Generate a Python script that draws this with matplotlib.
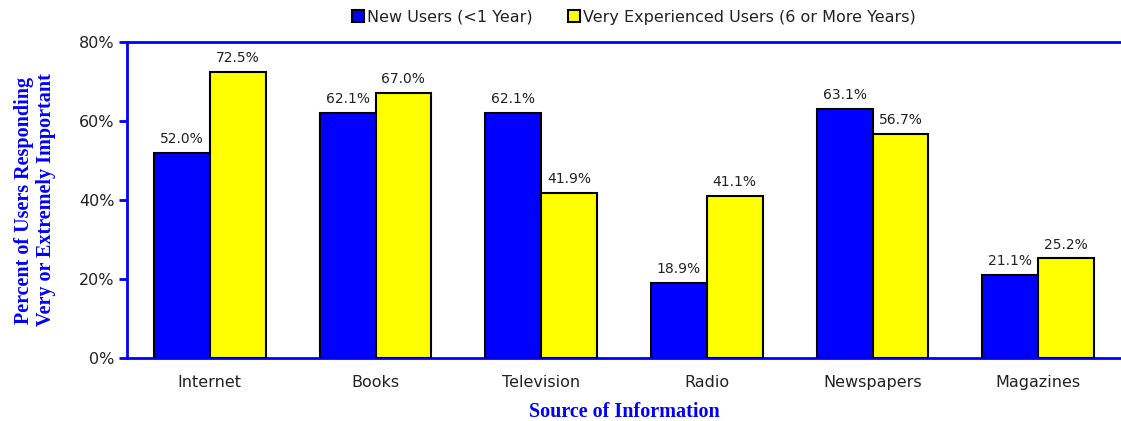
import matplotlib
matplotlib.use("Agg")
import matplotlib.pyplot as plt
import numpy as np

categories = ["Internet", "Books", "Television", "Radio", "Newspapers", "Magazines"]
new_users = [52.0, 62.1, 62.1, 18.9, 63.1, 21.1]
experienced = [72.5, 67.0, 41.9, 41.1, 56.7, 25.2]
series_names = ["New Users (<1 Year)", "Very Experienced Users (6 or More Years)"]

BLUE = "#0000ff"
YELLOW = "#ffff00"
TXT = "#222222"

fig = plt.figure(figsize=(11.21, 4.21), dpi=100)
ax = fig.add_axes([0.1133, 0.1496, 0.8867, 0.7506])

x = np.arange(len(categories))
w = 0.337
b1 = ax.bar(x - w / 2, new_users, w, color=BLUE, edgecolor="black", lw=1.5,
            label=series_names[0], zorder=3)
b2 = ax.bar(x + w / 2, experienced, w, color=YELLOW, edgecolor="black", lw=1.5,
            label=series_names[1], zorder=3)
for bars, vals in ((b1, new_users), (b2, experienced)):
    for r, v in zip(bars, vals):
        ax.annotate(f"{v:.1f}%", (r.get_x() + r.get_width() / 2, v),
                    textcoords="offset points", xytext=(0, 5),
                    ha="center", va="bottom", fontsize=10, color=TXT)

ax.set_xlim(-0.5, 5.5)
ax.set_ylim(0, 80)
ax.set_yticks([0, 20, 40, 60, 80])
ax.set_yticklabels([f"{v}%" for v in (0, 20, 40, 60, 80)], fontsize=11.5, color=TXT)
ax.set_xticks(x)
ax.set_xticklabels(categories, fontsize=11.5, color=TXT)
ax.tick_params(axis="x", length=0, pad=12)
ax.tick_params(axis="y", direction="out", length=6, width=2, color=BLUE, pad=3)

for side in ("left", "top", "bottom"):
    ax.spines[side].set_color(BLUE)
    ax.spines[side].set_linewidth(2)
ax.spines["right"].set_visible(False)

ax.set_xlabel("Source of Information", fontsize=14.5, fontweight="bold",
              family="Liberation Serif", color=BLUE, labelpad=9)
ax.set_ylabel("Percent of Users Responding\nVery or Extremely Important", fontsize=14.5,
              fontweight="bold", family="Liberation Serif", color=BLUE,
              linespacing=1.15)
ax.yaxis.set_label_coords(-0.0714, 0.5)

ax.legend(loc="lower center", bbox_to_anchor=(0.51, 1.02), ncol=2, frameon=False,
          fontsize=11.5, handlelength=0.75, handleheight=0.75, handletextpad=0.2,
          columnspacing=2.2, labelcolor=TXT, borderpad=0.2)

fig.savefig("out.png", dpi=100)
